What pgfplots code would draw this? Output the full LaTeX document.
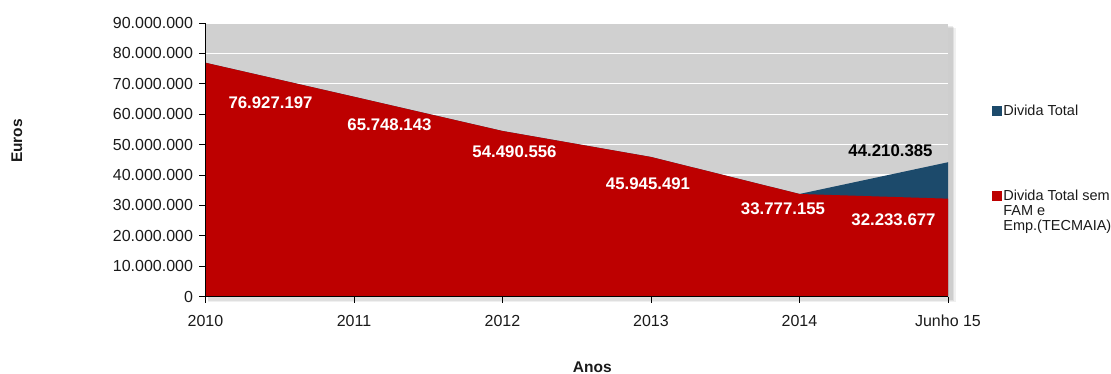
\documentclass[border=0pt]{standalone}
\usepackage{pgfplots}
\pgfplotsset{compat=1.18}
\usepackage{fontspec}
\setmainfont{Liberation Sans}
\definecolor{cRed}{HTML}{BD0000}
\definecolor{cBlue}{HTML}{1C4A6B}
\definecolor{cBg}{HTML}{D0D0D0}
\definecolor{cTxt}{HTML}{1A1A1A}
\begin{document}
\begin{tikzpicture}
% soft shadow to the right of and below the plot area
\fill[black, opacity=0.06] (742.5pt,-5pt) rectangle (750pt,269pt);
\fill[black, opacity=0.07] (742.5pt,-4pt) rectangle (748.5pt,270pt);
\fill[black, opacity=0.08] (742.5pt,-3pt) rectangle (747pt,271pt);
\fill[black, opacity=0.06] (3pt,-5pt) rectangle (742.5pt,0pt);
\fill[black, opacity=0.07] (3pt,-4pt) rectangle (742.5pt,0pt);
\begin{axis}[
  set layers=standard,
  axis on top,
  scale only axis,
  width=742.5pt, height=273.7pt,
  xmin=0, xmax=5, ymin=0, ymax=90000000,
  axis lines*=left,
  axis line style={black, line width=1.1pt},
  axis background/.style={fill=cBg},
  ymajorgrids,
  major grid style={white, line width=1.2pt, /pgfplots/on layer=axis background},
  ytick={0,10000000,20000000,30000000,40000000,50000000,60000000,70000000,80000000,90000000},
  xtick={0,1,2,3,4,5},
  xticklabels={2010,2011,2012,2013,2014,Junho 15},
  scaled y ticks=false,
  tick align=outside,
  major tick length=6pt,
  tick style={black, line width=0.9pt},
  /pgf/number format/.cd, fixed, 1000 sep={.}, assume math mode=true,
  /pgfplots/.cd,
  tick label style={font=\fontsize{16}{18}\selectfont, text=cTxt},
  yticklabel style={xshift=-3pt},
  xticklabel style={yshift=-9pt},
  xlabel={Anos},
  ylabel={Euros},
  xlabel style={at={(rel axis cs:0.521,-0.258)}, anchor=center, font=\bfseries\fontsize{15.5}{18}\selectfont, text=cTxt},
  ylabel style={at={(rel axis cs:-0.2539,0.569)}, anchor=center, rotate=0, font=\bfseries\fontsize{15.5}{18}\selectfont, text=cTxt},
  legend style={at={(rel axis cs:1.0554,0.712)}, anchor=north west, draw=none, fill=none,
    font=\fontsize{14.5}{15}\selectfont, text=cTxt, row sep=71pt,
    nodes={inner xsep=1pt, inner ysep=1pt, anchor=base west}},
  legend cell align=left,
  legend image code/.code={\fill[#1] (0pt,0pt) rectangle (10pt,9.5pt);},
]
\addplot[fill=cBlue, draw=none] coordinates {
  (0,76927197) (1,65748143) (2,54490556) (3,45945491) (4,33777155) (5,44210385)
} \closedcycle;
\addlegendentry{Divida Total}
\addplot[fill=cRed, draw=none] coordinates {
  (0,76927197) (1,65748143) (2,54490556) (3,45945491) (4,33777155) (5,32233677)
} \closedcycle;
\addlegendentry{\begin{tabular}[t]{@{}l@{}}Divida Total sem\\FAM e\\Emp.(TECMAIA)\end{tabular}}
\begin{scope}[every node/.style={font=\bfseries\fontsize{16.8}{18}\selectfont, anchor=center}]
\node[white] at (axis cs:0.438,63690000) {76.927.197};
\node[white] at (axis cs:1.239,56460000) {65.748.143};
\node[white] at (axis cs:2.081,47580000) {54.490.556};
\node[white] at (axis cs:2.980,37060000) {45.945.491};
\node[white] at (axis cs:3.889,28840000) {33.777.155};
\node[white] at (axis cs:4.633,25220000) {32.233.677};
\node[black] at (axis cs:4.613,48010000) {44.210.385};
\end{scope}
\end{axis}
\pgfresetboundingbox
\path (-205.5pt,-77.3pt) rectangle (905.5pt,296.7pt);
\end{tikzpicture}
\end{document}
